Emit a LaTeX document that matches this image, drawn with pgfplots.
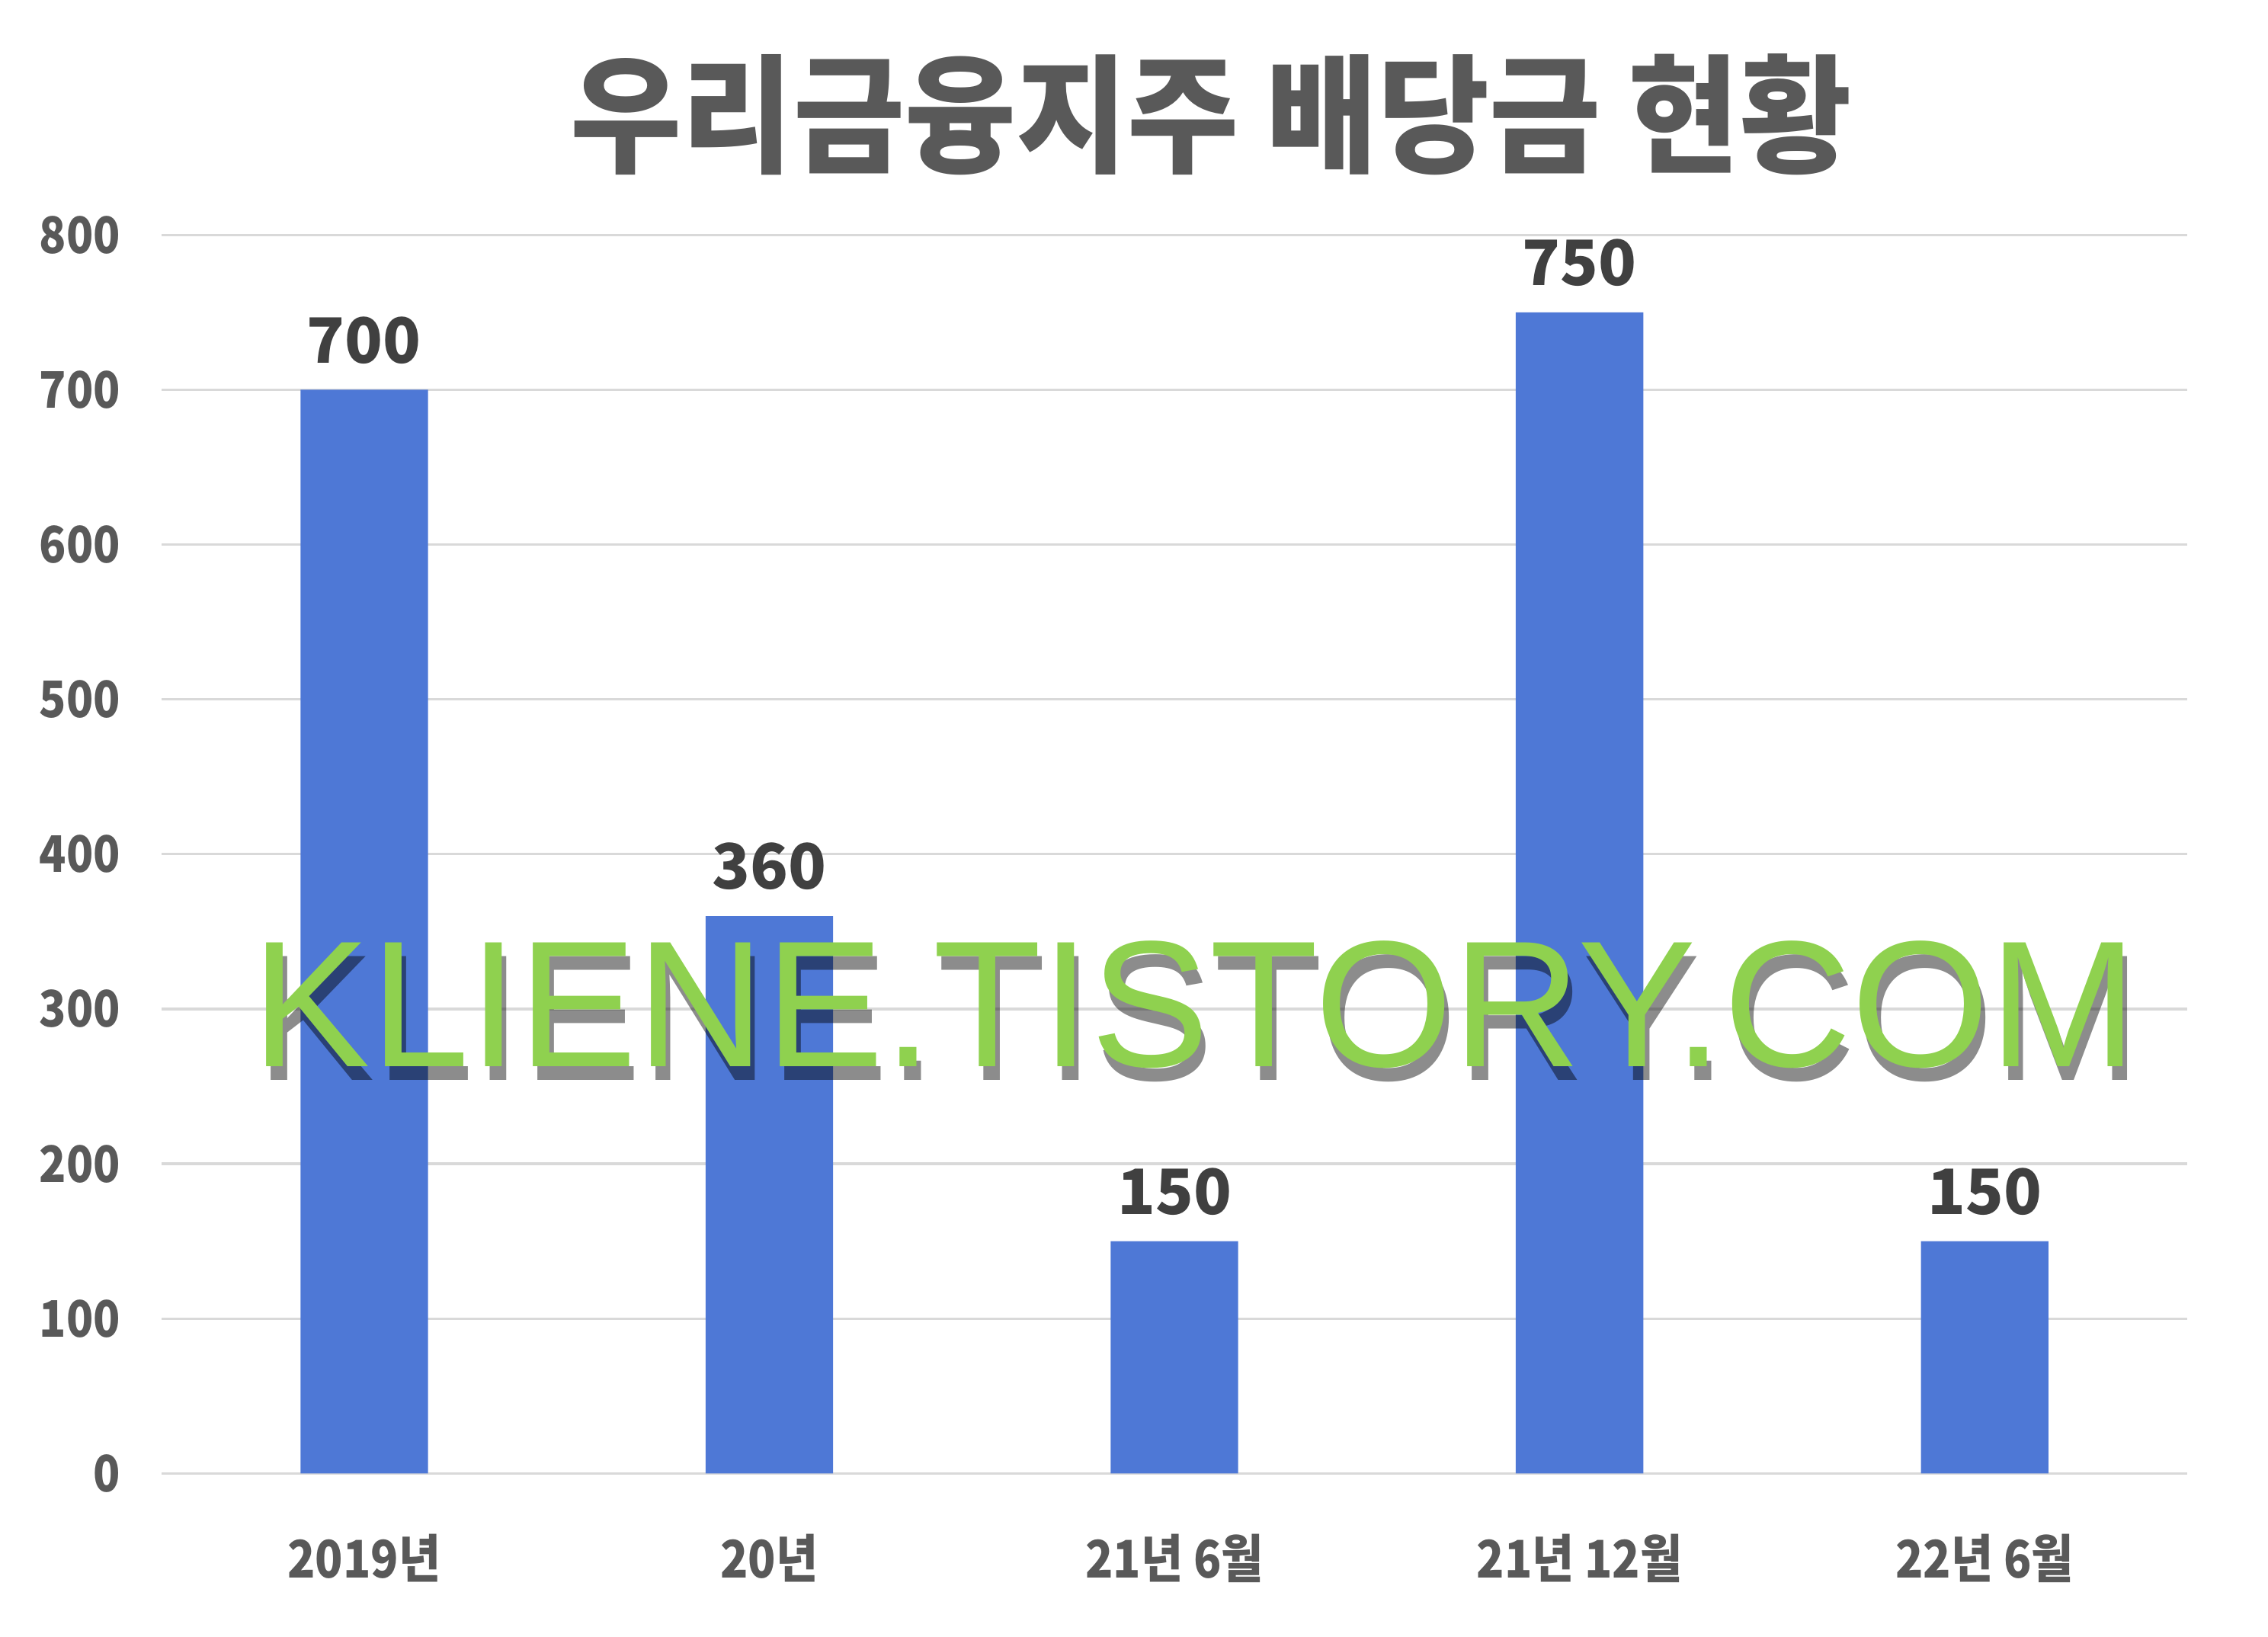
\documentclass[border=0pt]{standalone}
\usepackage{pgfplots}
\pgfplotsset{compat=1.18}
\usepackage{fontspec}
\setmainfont{Noto Sans CJK KR}
\newfontfamily\wmfont{Liberation Sans}
\definecolor{barblue}{HTML}{4E78D6}
\definecolor{gridgray}{HTML}{D9D9D9}
\definecolor{tickgray}{HTML}{595959}
\definecolor{labelgray}{HTML}{404040}
\definecolor{wmgreen}{HTML}{8FD14F}
\newcommand{\nx}[1]{\scalebox{0.88}[1]{#1}}
\begin{document}
\begin{tikzpicture}
\useasboundingbox (-53pt,-53.5pt) rectangle (690.5pt,483pt);
\node[font=\fontsize{42}{48}\selectfont\bfseries, text=tickgray] at (344pt,445.5pt) {\scalebox{0.945}[1]{우리금융지주 배당금 현황}};
\begin{axis}[at={(0,0)}, anchor=south west, scale only axis,
  width=664pt, height=406pt,
  ymin=0, ymax=800, xmin=-0.5, xmax=4.5,
  ytick={0,100,...,800},
  xtick={0,1,2,3,4},
  xticklabels={{\nx{2019년}},{\nx{20년}},{\nx{21년 6월}},{\nx{21년 12월}},{\nx{22년 6월}}},
  axis line style={draw=none},
  major tick length=0pt,
  ymajorgrids,
  grid style={color=gridgray, line width=0.8pt},
  /pgf/number format/assume math mode=true,
  yticklabel={\scalebox{0.88}[1]{\pgfmathprintnumber{\tick}}},
  yticklabel style={font=\fontsize{16.5}{20}\selectfont\bfseries, text=tickgray, xshift=-10pt},
  xticklabel style={font=\fontsize{17}{20}\selectfont\bfseries, text=tickgray, yshift=-16.5pt},
  ybar, bar width=41.8pt,
  nodes near coords,
  nodes near coords style={font=\fontsize{20.5}{24}\selectfont\bfseries, text=labelgray, yshift=5pt},
  clip=false]
\addplot[fill=barblue, draw=none] coordinates {(0,700) (1,360) (2,150) (3,750) (4,150)};
\node[anchor=base, font=\fontsize{59}{64}\selectfont\wmfont, text=black, opacity=0.45] at ([shift={(1.5pt,-4.5pt)}]axis cs:2.05,263) {\scalebox{0.987}[1]{KLIENE.TISTORY.COM}};
\node[anchor=base, font=\fontsize{59}{64}\selectfont\wmfont, text=wmgreen] at (axis cs:2.05,263) {\scalebox{0.987}[1]{KLIENE.TISTORY.COM}};
\end{axis}
\end{tikzpicture}
\end{document}
